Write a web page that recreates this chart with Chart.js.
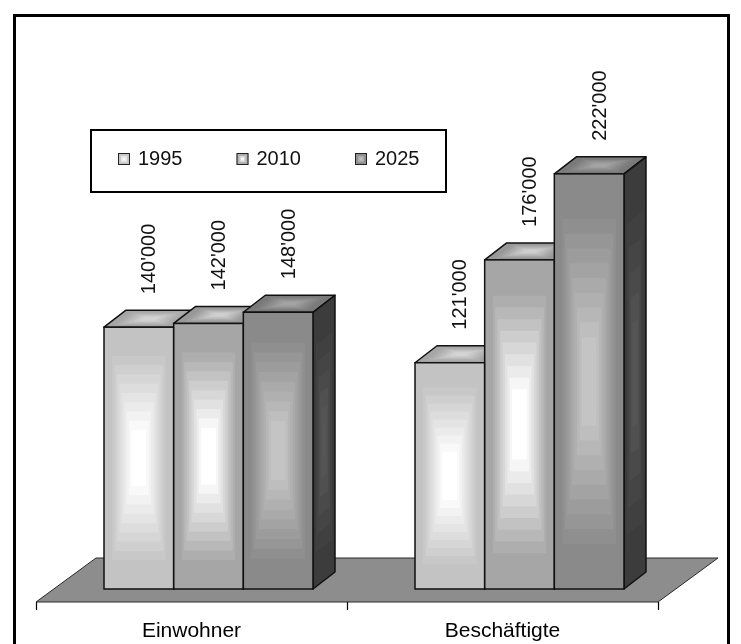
<!DOCTYPE html>
<html>
<head>
<meta charset="utf-8">
<script src="https://cdn.jsdelivr.net/npm/chart.js@4.4.0/dist/chart.umd.min.js"></script>
<style>
  html, body { margin: 0; padding: 0; background: #fff; }
  canvas { display: block; }
</style>
</head>
<body>
<canvas id="c" width="741" height="644"></canvas>
<script>
const categories = ['Einwohner', 'Beschäftigte'];
const seriesNames = ['1995', '2010', '2025'];
const values1995 = [140000, 121000];
const values2010 = [142000, 176000];
const values2025 = [148000, 222000];

const FONT = '"Liberation Sans", Arial, sans-serif';
// shading of each face per series: [edge colour, centre colour]
const frontShade = [['#c3c3c3', '#ffffff'], ['#a6a6a6', '#ffffff'], ['#8a8a8a', '#c4c4c4']];
const topShade   = [['#a6a6a6', '#d4d4d4'], ['#989898', '#d0d0d0'], ['#7a7a7a', '#a4a4a4']];
const sideShade  = [['#5a5a5a', '#707070'], ['#505050', '#686868'], ['#3c3c3c', '#565656']];
const DEPTH = { dx: 22, dy: -17 };
const FLOOR_FRONT = { dx: -17, dy: 13 };
const FLOOR_BACK = { dx: 43, dy: -31 };
const EDGE = '#111111';

function hexRgb(c) {
  return [1, 3, 5].map(i => parseInt(c.slice(i, i + 2), 16));
}
function mix(a, b, f) {
  const A = hexRgb(a), B = hexRgb(b);
  return 'rgb(' + A.map((v, i) => Math.round(v + (B[i] - v) * f)).join(',') + ')';
}
function fmt(v) {
  return String(v).replace(/\B(?=(\d{3})+(?!\d))/g, "'");
}

// concentric rectangular shading from the centre of a box out to its edges
function shadeBox(ctx, x, y, w, h, edge, centre, steps) {
  const cx = x + w / 2, cy = y + h / 2;
  for (let k = steps; k >= 1; k--) {
    const t = k / steps;
    const f = Math.max(0, Math.min(1, (t - 0.22) / 0.62));
    ctx.fillStyle = mix(centre, edge, f);
    ctx.fillRect(cx - t * w / 2, cy - t * h / 2, t * w, t * h);
  }
}

function polygon(ctx, pts) {
  ctx.beginPath();
  ctx.moveTo(pts[0][0], pts[0][1]);
  for (let i = 1; i < pts.length; i++) ctx.lineTo(pts[i][0], pts[i][1]);
  ctx.closePath();
}

function barBox(el) {
  const p = el.getProps(['x', 'y', 'base', 'width'], true);
  return { l: p.x - p.width / 2, r: p.x + p.width / 2, top: p.y, base: p.base, cx: p.x };
}

const bars3d = {
  id: 'bars3d',
  beforeDraw(chart) {
    const ctx = chart.ctx;
    ctx.save();
    ctx.fillStyle = '#ffffff';
    ctx.fillRect(0, 0, chart.width, chart.height);
    // outer frame
    ctx.strokeStyle = '#000';
    ctx.lineWidth = 3;
    ctx.strokeRect(14.5, 15.5, 714, 640);
    ctx.restore();
  },
  beforeDatasetsDraw(chart) {
    const ctx = chart.ctx;
    const xs = chart.scales.x, ys = chart.scales.y;
    const y0 = ys.getPixelForValue(0);
    ctx.save();
    // floor
    const fl = [
      [xs.left + FLOOR_FRONT.dx, y0 + FLOOR_FRONT.dy],
      [xs.right + FLOOR_FRONT.dx, y0 + FLOOR_FRONT.dy],
      [xs.right + FLOOR_BACK.dx, y0 + FLOOR_BACK.dy],
      [xs.left + FLOOR_BACK.dx, y0 + FLOOR_BACK.dy]
    ];
    polygon(ctx, fl);
    ctx.fillStyle = '#8d8d8d';
    ctx.fill();
    ctx.strokeStyle = '#2a2a2a';
    ctx.lineWidth = 1;
    ctx.stroke();
    // category boundary ticks and category names under the floor's front edge
    const n = categories.length;
    ctx.strokeStyle = '#000';
    ctx.lineWidth = 1.2;
    for (let k = 0; k <= n; k++) {
      const x = Math.round(xs.left + k * (xs.right - xs.left) / n + FLOOR_FRONT.dx) + 0.5;
      ctx.beginPath();
      ctx.moveTo(x, y0 + FLOOR_FRONT.dy);
      ctx.lineTo(x, y0 + FLOOR_FRONT.dy + 8);
      ctx.stroke();
    }
    ctx.fillStyle = '#000';
    ctx.font = '21px ' + FONT;
    ctx.textAlign = 'center';
    ctx.textBaseline = 'alphabetic';
    categories.forEach((name, j) => {
      ctx.fillText(name, xs.getPixelForValue(j) + FLOOR_FRONT.dx, 637);
    });
    // top and side faces, left to right so nearer bars overlap
    for (let j = 0; j < n; j++) {
      chart.data.datasets.forEach((ds, i) => {
        const b = barBox(chart.getDatasetMeta(i).data[j]);
        const w = b.r - b.l, h = b.base - b.top;
        // top face
        ctx.save();
        ctx.transform(w, 0, DEPTH.dx, DEPTH.dy, b.l, b.top);
        shadeBox(ctx, 0, 0, 1, 1, topShade[i][0], topShade[i][1], 8);
        ctx.restore();
        // side face
        ctx.save();
        ctx.transform(DEPTH.dx, DEPTH.dy, 0, h, b.r, b.top);
        shadeBox(ctx, 0, 0, 1, 1, sideShade[i][0], sideShade[i][1], 8);
        ctx.restore();
        ctx.strokeStyle = EDGE;
        ctx.lineWidth = 1.5;
        ctx.lineJoin = 'round';
        polygon(ctx, [[b.l, b.top], [b.r, b.top], [b.r + DEPTH.dx, b.top + DEPTH.dy], [b.l + DEPTH.dx, b.top + DEPTH.dy]]);
        ctx.stroke();
        polygon(ctx, [[b.r, b.top], [b.r + DEPTH.dx, b.top + DEPTH.dy], [b.r + DEPTH.dx, b.base + DEPTH.dy], [b.r, b.base]]);
        ctx.stroke();
      });
    }
    ctx.restore();
  },
  afterDatasetsDraw(chart) {
    const ctx = chart.ctx;
    ctx.save();
    chart.data.datasets.forEach((ds, i) => {
      chart.getDatasetMeta(i).data.forEach((el, j) => {
        const b = barBox(el);
        shadeBox(ctx, b.l + 0.75, b.top + 0.75, b.r - b.l - 1.5, b.base - b.top - 1.5,
          frontShade[i][0], frontShade[i][1], 14);
        ctx.strokeStyle = EDGE;
        ctx.lineWidth = 1.5;
        ctx.strokeRect(b.l, b.top, b.r - b.l, b.base - b.top);
        // value label, written upwards above the bar
        ctx.save();
        ctx.translate(b.cx + DEPTH.dx / 2, b.top - 33);
        ctx.rotate(-Math.PI / 2);
        ctx.fillStyle = '#111';
        ctx.font = '20px ' + FONT;
        ctx.textAlign = 'left';
        ctx.textBaseline = 'middle';
        ctx.fillText(fmt(ds.data[j]), 0, 0);
        ctx.restore();
      });
    });
    // legend box
    ctx.fillStyle = '#fff';
    ctx.fillRect(91, 130, 355, 62);
    ctx.strokeStyle = '#000';
    ctx.lineWidth = 2;
    ctx.strokeRect(91, 130, 355, 62);
    ctx.font = '20px ' + FONT;
    ctx.textBaseline = 'middle';
    ctx.textAlign = 'left';
    chart.data.datasets.forEach((ds, i) => {
      const x = 118 + i * 118.5, y = 153;
      shadeBox(ctx, x, y, 12, 12, frontShade[i][0], frontShade[i][1], 4);
      ctx.strokeStyle = '#222';
      ctx.lineWidth = 1;
      ctx.strokeRect(x + 0.5, y + 0.5, 11, 11);
      ctx.fillStyle = '#111';
      ctx.fillText(ds.label, x + 20, y + 6.5);
    });
    ctx.restore();
  }
};

new Chart(document.getElementById('c'), {
  type: 'bar',
  data: {
    labels: categories,
    datasets: [values1995, values2010, values2025].map((vals, i) => ({
      label: seriesNames[i],
      data: vals,
      backgroundColor: frontShade[i][0],
      borderColor: EDGE,
      borderWidth: 0,
      categoryPercentage: 0.672,
      barPercentage: 1.0
    }))
  },
  options: {
    responsive: false,
    animation: false,
    devicePixelRatio: 1,
    layout: { padding: { top: 102.8, left: 53, right: 66, bottom: 55 } },
    plugins: { legend: { display: false }, tooltip: { enabled: false } },
    scales: {
      x: { display: false },
      y: { display: false, min: 0, max: 260000 }
    }
  },
  plugins: [bars3d]
});
</script>
</body>
</html>
